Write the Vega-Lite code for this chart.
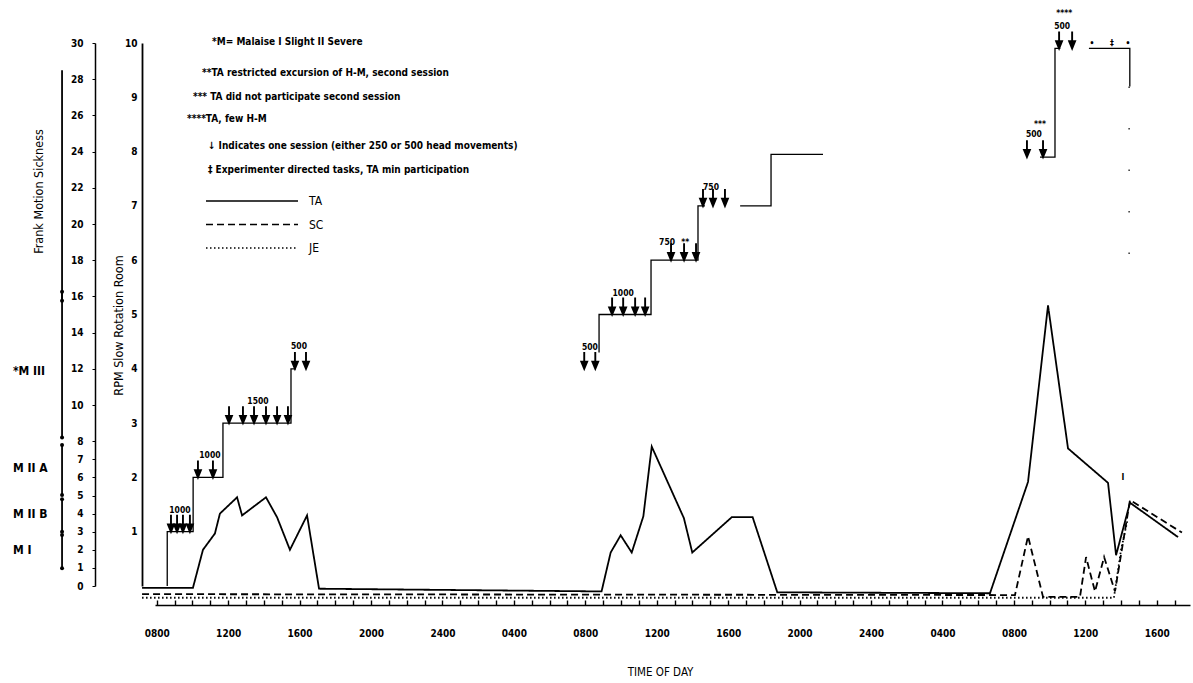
{
  "$schema": "https://vega.github.io/schema/vega-lite/v6.json",
  "width": 1035,
  "height": 543,
  "autosize": {"type": "none"},
  "padding": {"left": 155, "top": 43, "right": 3, "bottom": 97},
  "background": "white",
  "config": {
    "view": {"stroke": null},
    "font": "DejaVu Sans Condensed, Liberation Sans Narrow, DejaVu Sans, sans-serif",
    "axis": {"grid": false, "labelOverlap": false, "domainColor": "black", "tickColor": "black", "labelColor": "black", "titleColor": "black", "labelFontWeight": "bold", "titleFontWeight": "normal"},
    "text": {"color": "black"}
  },
  "datasets": {
    "steps": [
      {"i": 1, "seg": "A", "hour": 8.59, "rpm": 0},
      {"i": 2, "seg": "A", "hour": 8.59, "rpm": 1},
      {"i": 3, "seg": "A", "hour": 10.04, "rpm": 1},
      {"i": 4, "seg": "A", "hour": 10.04, "rpm": 2},
      {"i": 5, "seg": "A", "hour": 11.71, "rpm": 2},
      {"i": 6, "seg": "A", "hour": 11.71, "rpm": 3},
      {"i": 7, "seg": "A", "hour": 15.52, "rpm": 3},
      {"i": 8, "seg": "A", "hour": 15.52, "rpm": 4},
      {"i": 9, "seg": "A", "hour": 15.8, "rpm": 4},
      {"i": 10, "seg": "B", "hour": 32.77, "rpm": 4.3},
      {"i": 11, "seg": "B", "hour": 32.77, "rpm": 5},
      {"i": 12, "seg": "B", "hour": 35.68, "rpm": 5},
      {"i": 13, "seg": "B", "hour": 35.68, "rpm": 6},
      {"i": 14, "seg": "B", "hour": 38.31, "rpm": 6},
      {"i": 15, "seg": "B", "hour": 38.31, "rpm": 7},
      {"i": 16, "seg": "B", "hour": 38.7, "rpm": 7},
      {"i": 17, "seg": "C", "hour": 40.67, "rpm": 7},
      {"i": 18, "seg": "C", "hour": 42.4, "rpm": 7},
      {"i": 19, "seg": "C", "hour": 42.4, "rpm": 7.95},
      {"i": 20, "seg": "C", "hour": 45.31, "rpm": 7.95},
      {"i": 21, "seg": "D", "hour": 57.46, "rpm": 7.9},
      {"i": 22, "seg": "D", "hour": 58.3, "rpm": 7.9},
      {"i": 23, "seg": "D", "hour": 58.3, "rpm": 9.9},
      {"i": 24, "seg": "D", "hour": 58.6, "rpm": 9.9},
      {"i": 25, "seg": "E", "hour": 60.2, "rpm": 9.9},
      {"i": 26, "seg": "E", "hour": 62.49, "rpm": 9.9},
      {"i": 27, "seg": "E", "hour": 62.49, "rpm": 9.2}
    ],
    "trail": [
      {"i": 1, "hour": 62.45, "rpm": 9.2},
      {"i": 2, "hour": 62.45, "rpm": 5.6}
    ],
    "arrows": [
      {"hour": 8.80, "rpm": 1}, {"hour": 9.14, "rpm": 1}, {"hour": 9.47, "rpm": 1}, {"hour": 9.86, "rpm": 1},
      {"hour": 10.31, "rpm": 2}, {"hour": 11.15, "rpm": 2},
      {"hour": 12.05, "rpm": 3}, {"hour": 12.83, "rpm": 3}, {"hour": 13.45, "rpm": 3}, {"hour": 14.12, "rpm": 3}, {"hour": 14.74, "rpm": 3}, {"hour": 15.35, "rpm": 3},
      {"hour": 15.74, "rpm": 4}, {"hour": 16.36, "rpm": 4},
      {"hour": 31.94, "rpm": 4}, {"hour": 32.56, "rpm": 4},
      {"hour": 33.5, "rpm": 5}, {"hour": 34.12, "rpm": 5}, {"hour": 34.79, "rpm": 5}, {"hour": 35.35, "rpm": 5},
      {"hour": 36.8, "rpm": 6}, {"hour": 37.53, "rpm": 6}, {"hour": 38.2, "rpm": 6},
      {"hour": 38.59, "rpm": 7}, {"hour": 39.15, "rpm": 7}, {"hour": 39.82, "rpm": 7},
      {"hour": 56.73, "rpm": 7.9}, {"hour": 57.63, "rpm": 7.9},
      {"hour": 58.53, "rpm": 9.9}, {"hour": 59.26, "rpm": 9.9}
    ],
    "marks": [
      {"label": "1000", "hour": 9.30, "rpm": 1.40},
      {"label": "1000", "hour": 10.98, "rpm": 2.41},
      {"label": "1500", "hour": 13.67, "rpm": 3.41},
      {"label": "500", "hour": 15.97, "rpm": 4.42},
      {"label": "500", "hour": 32.26, "rpm": 4.40},
      {"label": "1000", "hour": 34.12, "rpm": 5.40},
      {"label": "750", "hour": 36.58, "rpm": 6.34},
      {"label": "**", "hour": 37.59, "rpm": 6.34},
      {"label": "750", "hour": 39.04, "rpm": 7.35},
      {"label": "500", "hour": 57.12, "rpm": 8.33},
      {"label": "***", "hour": 57.46, "rpm": 8.51},
      {"label": "500", "hour": 58.7, "rpm": 10.31},
      {"label": "****", "hour": 58.82, "rpm": 10.55},
      {"label": "•", "hour": 60.37, "rpm": 10.0},
      {"label": "‡", "hour": 61.49, "rpm": 10.0},
      {"label": "•", "hour": 62.38, "rpm": 10.0},
      {"label": "I", "hour": 62.1, "rpm": 2.0}
    ],
    "notes": [
      {"note": "*M= Malaise   I Slight   II Severe", "hour": 11.10, "rpm": 10.02},
      {"note": "**TA  restricted  excursion  of  H-M,  second  session", "hour": 10.54, "rpm": 9.45},
      {"note": "*** TA  did  not  participate  second  session", "hour": 10.03, "rpm": 9.01},
      {"note": "****TA,  few  H-M", "hour": 9.70, "rpm": 8.6},
      {"note": "↓ Indicates  one  session  (either  250  or  500  head  movements)", "hour": 10.87, "rpm": 8.10},
      {"note": "‡  Experimenter  directed  tasks,  TA  min  participation", "hour": 10.87, "rpm": 7.66}
    ],
    "curves": [
      {"subject": "TA", "hour": 7.18, "frank": -0.1},
      {"subject": "TA", "hour": 10.03, "frank": -0.1},
      {"subject": "TA", "hour": 10.59, "frank": 2.0},
      {"subject": "TA", "hour": 11.26, "frank": 2.9},
      {"subject": "TA", "hour": 11.54, "frank": 4.0},
      {"subject": "TA", "hour": 12.5, "frank": 4.9},
      {"subject": "TA", "hour": 12.78, "frank": 3.9},
      {"subject": "TA", "hour": 14.12, "frank": 4.9},
      {"subject": "TA", "hour": 14.74, "frank": 3.8},
      {"subject": "TA", "hour": 15.46, "frank": 2.0},
      {"subject": "TA", "hour": 16.42, "frank": 3.9},
      {"subject": "TA", "hour": 17.09, "frank": -0.15},
      {"subject": "TA", "hour": 32.91, "frank": -0.3},
      {"subject": "TA", "hour": 33.42, "frank": 1.85},
      {"subject": "TA", "hour": 33.98, "frank": 2.8},
      {"subject": "TA", "hour": 34.6, "frank": 1.85},
      {"subject": "TA", "hour": 35.25, "frank": 3.85},
      {"subject": "TA", "hour": 35.72, "frank": 7.7},
      {"subject": "TA", "hour": 37.52, "frank": 3.75},
      {"subject": "TA", "hour": 37.99, "frank": 1.85},
      {"subject": "TA", "hour": 40.2, "frank": 3.8},
      {"subject": "TA", "hour": 41.37, "frank": 3.8},
      {"subject": "TA", "hour": 42.75, "frank": -0.35},
      {"subject": "TA", "hour": 54.66, "frank": -0.4},
      {"subject": "TA", "hour": 56.79, "frank": 5.75},
      {"subject": "TA", "hour": 57.91, "frank": 15.5},
      {"subject": "TA", "hour": 59.03, "frank": 7.6},
      {"subject": "TA", "hour": 61.27, "frank": 5.7},
      {"subject": "TA", "hour": 61.72, "frank": 1.7},
      {"subject": "TA", "hour": 62.5, "frank": 4.6},
      {"subject": "TA", "hour": 65.19, "frank": 2.7},
      {"subject": "SC", "hour": 7.18, "frank": -0.45},
      {"subject": "SC", "hour": 56.06, "frank": -0.5},
      {"subject": "SC", "hour": 56.79, "frank": 2.75},
      {"subject": "SC", "hour": 57.63, "frank": -0.6},
      {"subject": "SC", "hour": 59.7, "frank": -0.6},
      {"subject": "SC", "hour": 60.04, "frank": 1.6},
      {"subject": "SC", "hour": 60.54, "frank": -0.3},
      {"subject": "SC", "hour": 61.05, "frank": 1.6},
      {"subject": "SC", "hour": 61.66, "frank": -0.3},
      {"subject": "SC", "hour": 62.5, "frank": 4.75},
      {"subject": "SC", "hour": 65.41, "frank": 2.95},
      {"subject": "JE", "hour": 7.18, "frank": -0.65},
      {"subject": "JE", "hour": 61.6, "frank": -0.65},
      {"subject": "JE", "hour": 62.0, "frank": 2.0},
      {"subject": "JE", "hour": 62.35, "frank": 3.6}
    ],
    "malaise": [
      {"band": "M I", "lo": 0.98, "hi": 2.82, "mid": 2.0},
      {"band": "M II B", "lo": 3.0, "hi": 4.79, "mid": 4.0},
      {"band": "M II A", "lo": 5.03, "hi": 7.79, "mid": 6.5},
      {"band": "*M III", "lo": 8.2, "hi": 16.26, "mid": 11.9},
      {"band": "", "lo": 15.76, "hi": 28.5, "mid": 22}
    ]
  },
  "layer": [
    {
      "layer": [
        {
          "data": {"name": "steps"},
          "mark": {"type": "line", "color": "black", "strokeWidth": 1.3},
          "encoding": {
            "x": {
              "field": "hour",
              "type": "quantitative",
              "scale": {"domain": [7.905, 65.86], "nice": false, "zero": false},
              "axis": {
                "title": "TIME OF DAY",
                "values": [8,9,10,11,12,13,14,15,16,17,18,19,20,21,22,23,24,25,26,27,28,29,30,31,32,33,34,35,36,37,38,39,40,41,42,43,44,45,46,47,48,49,50,51,52,53,54,55,56,57,58,59,60,61,62,63,64,65],
                "tickCount": 200,
                "labelExpr": "datum.value % 4 === 0 ? (datum.value % 24 === 0 ? '2400' : ((datum.value % 24) < 10 ? '0' : '') + (datum.value % 24) + '00') : ''",
                "offset": 19,
                "tickSize": -5,
                "tickWidth": 1.4,
                "domainWidth": 1.5,
                "labelPadding": 28,
                "labelFontSize": 10,
                "labelOverlap": false,
                "labelFlush": false,
                "titleFontSize": 11.5,
                "titleX": 505,
                "titleY": 67,
                "titleBaseline": "middle",
                "titleAlign": "center"
              }
            },
            "y": {
              "field": "rpm", "type": "quantitative",
              "scale": {"domain": [0, 10], "nice": false, "zero": false},
              "axis": {
                "title": "RPM  Slow  Rotation  Room",
                "orient": "left",
                "offset": 13,
                "values": [1,2,3,4,5,6,7,8,9,10],
                "format": "d",
                "tickCount": 50,
                "ticks": false,
                "labelPadding": 5,
                "labelFontSize": 10,
                "labelOverlap": false,
                "domainWidth": 1.8,
                "titleFontSize": 12.5,
                "titleAngle": -90,
                "titleX": -24,
                "titleY": 282,
                "titleAlign": "center",
                "titleBaseline": "middle"
              }
            },
            "detail": {"field": "seg"},
            "order": {"field": "i"}
          }
        },
        {
          "data": {"name": "trail"},
          "mark": {"type": "line", "color": "black", "strokeWidth": 1.2, "strokeDash": [1.5, 40]},
          "encoding": {
            "x": {"field": "hour", "type": "quantitative", "title": "TIME OF DAY"},
            "y": {"field": "rpm", "type": "quantitative", "title": "RPM  Slow  Rotation  Room"},
            "order": {"field": "i"}
          }
        },
        {
          "data": {"name": "arrows"},
          "mark": {"type": "point", "shape": "M0,-2.6L0,-0.8M-0.45,-1.1L0,0L0.45,-1.1Z", "size": 169, "filled": true, "fill": "black", "stroke": "black", "strokeWidth": 1.9, "opacity": 1},
          "encoding": {
            "x": {"field": "hour", "type": "quantitative", "title": "TIME OF DAY"},
            "y": {"field": "rpm", "type": "quantitative", "title": "RPM  Slow  Rotation  Room"}
          }
        },
        {
          "data": {"name": "marks"},
          "mark": {"type": "text", "fontSize": 8.5, "fontWeight": "bold", "baseline": "middle", "color": "black"},
          "encoding": {
            "x": {"field": "hour", "type": "quantitative", "title": "TIME OF DAY"},
            "y": {"field": "rpm", "type": "quantitative", "title": "RPM  Slow  Rotation  Room"},
            "text": {"field": "label"}
          }
        },
        {
          "data": {"name": "notes"},
          "mark": {"type": "text", "align": "left", "baseline": "middle", "fontSize": 10, "fontWeight": "bold"},
          "encoding": {
            "x": {"field": "hour", "type": "quantitative", "title": "TIME OF DAY"},
            "y": {"field": "rpm", "type": "quantitative", "title": "RPM  Slow  Rotation  Room"},
            "text": {"field": "note"}
          }
        }
      ]
    },
    {
      "layer": [
        {
          "data": {"name": "curves"},
          "mark": {"type": "line", "color": "black", "strokeWidth": 1.8},
          "encoding": {
            "x": {"field": "hour", "type": "quantitative", "title": "TIME OF DAY"},
            "y": {
              "field": "frank", "type": "quantitative",
              "scale": {"domain": [0, 30], "nice": false, "zero": false},
              "axis": {
                "title": "Frank Motion Sickness",
                "orient": "left",
                "offset": 60,
                "values": [0,1,2,3,4,5,6,7,8,10,12,14,16,18,20,22,24,26,28,30],
                "format": "d",
                "tickCount": 100,
                "tickSize": 3,
                "labelPadding": 9,
                "labelFontSize": 10,
                "labelOverlap": false,
                "domainWidth": 1.5,
                "titleFontSize": 12.5,
                "titleAngle": -90,
                "titleX": -57,
                "titleY": 148,
                "titleAlign": "center",
                "titleBaseline": "middle"
              }
            },
            "strokeDash": {
              "field": "subject", "type": "nominal",
              "scale": {"domain": ["TA", "SC", "JE"], "range": [[1, 0], [7, 4], [1.5, 2.5]]},
              "legend": {
                "orient": "none",
                "legendX": 50,
                "legendY": 147,
                "title": null,
                "padding": 0,
                "symbolType": "M-1,0L8.2,0",
                "symbolSize": 400,
                "symbolStrokeWidth": 1.5,
                "symbolStrokeColor": "black",
                "labelFontSize": 12,
                "labelOffset": 82,
                "rowPadding": 6.5,
                "labelColor": "black"
              }
            }
          }
        },
        {
          "data": {"name": "malaise"},
          "mark": {"type": "rule", "color": "black", "strokeWidth": 1.8},
          "encoding": {
            "x": {"datum": 2.7},
            "y": {"field": "lo", "type": "quantitative", "axis": {"title": "Frank Motion Sickness", "tickCount": 100, "format": "d"}},
            "y2": {"field": "hi"}
          }
        },
        {
          "data": {"name": "malaise"},
          "mark": {"type": "point", "filled": true, "color": "black", "size": 16, "opacity": 1},
          "encoding": {
            "x": {"datum": 2.7},
            "y": {"field": "lo", "type": "quantitative", "axis": {"title": "Frank Motion Sickness", "tickCount": 100, "format": "d"}}
          }
        },
        {
          "data": {"name": "malaise"},
          "transform": [{"filter": "datum.hi < 28"}],
          "mark": {"type": "point", "filled": true, "color": "black", "size": 16, "opacity": 1},
          "encoding": {
            "x": {"datum": 2.7},
            "y": {"field": "hi", "type": "quantitative", "axis": {"title": "Frank Motion Sickness", "tickCount": 100, "format": "d"}}
          }
        },
        {
          "data": {"name": "malaise"},
          "transform": [{"filter": "datum.band != ''"}],
          "mark": {"type": "text", "align": "left", "baseline": "middle", "fontSize": 12, "fontWeight": "bold"},
          "encoding": {
            "x": {"datum": -0.05},
            "y": {"field": "mid", "type": "quantitative", "axis": {"title": "Frank Motion Sickness", "tickCount": 100, "format": "d"}},
            "text": {"field": "band"}
          }
        }
      ]
    }
  ],
  "resolve": {"scale": {"y": "independent"}}
}
